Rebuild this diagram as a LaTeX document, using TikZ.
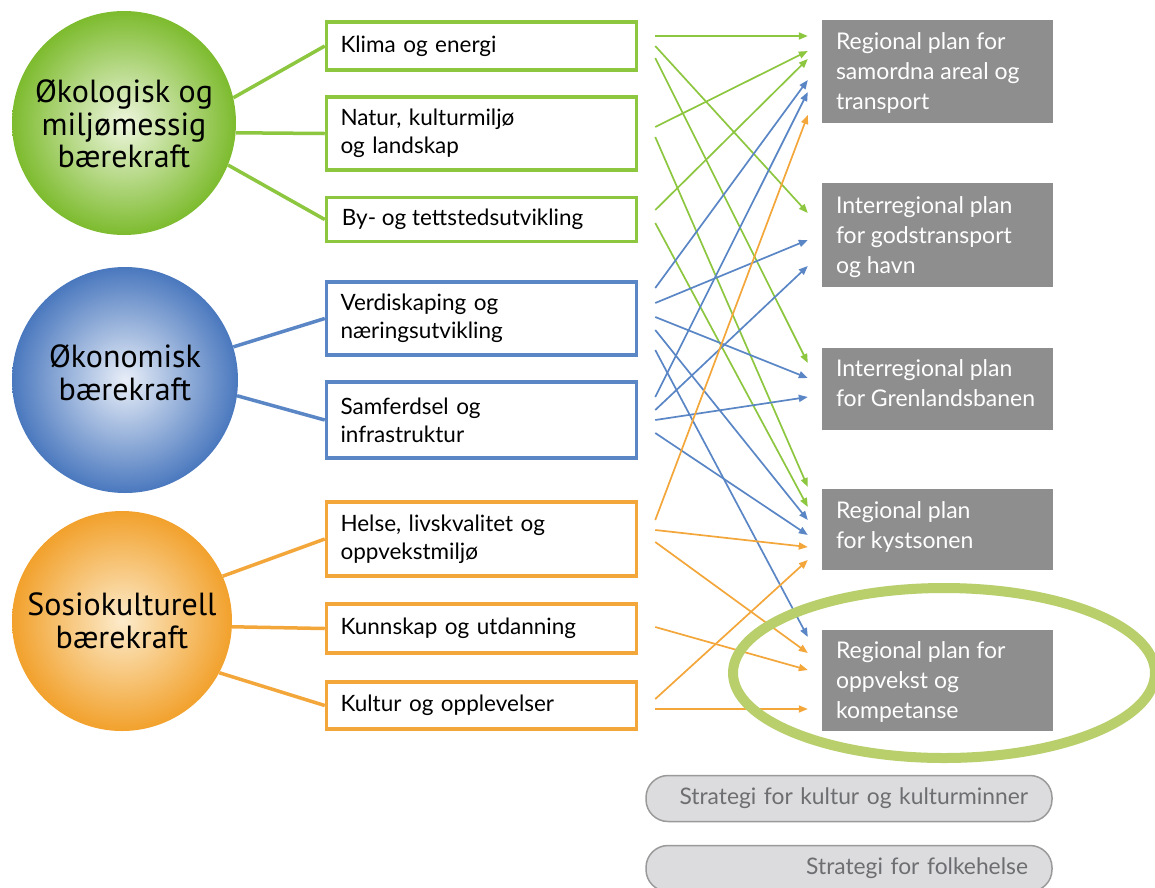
\documentclass[tikz,border=0pt]{standalone}
\usepackage{fontspec}
\setmainfont{Lato}
\newfontfamily\circfont{PT Sans}
\usetikzlibrary{arrows.meta}
\definecolor{gr}{HTML}{8DC63F}
\definecolor{bl}{HTML}{5A86C6}
\definecolor{orn}{HTML}{F3A63A}
\definecolor{grIn}{HTML}{EEF6DE}
\definecolor{grOut}{HTML}{7DBB2E}
\definecolor{blIn}{HTML}{E8EEF8}
\definecolor{blOut}{HTML}{4A78BE}
\definecolor{orIn}{HTML}{FCEBCB}
\definecolor{orOut}{HTML}{F2A12C}
\definecolor{plangray}{HTML}{8E8E8E}
\definecolor{pillfill}{HTML}{DCDCDE}
\definecolor{pilldraw}{HTML}{9A9A9A}
\definecolor{pilltext}{HTML}{6D6E71}
\definecolor{ell}{HTML}{B8CF6B}
\tikzset{
  themebox/.style={draw=#1, line width=3.5pt, fill=white, minimum width=310pt,
    text width=282pt, inner xsep=14pt, align=left, font=\fontsize{22.5}{28}\selectfont},
  themetext/.style={anchor=west, inner sep=0pt, font=\fontsize{22.5}{28}\selectfont},
  planbox/.style={fill=plangray, minimum width=231pt, inner sep=0pt},
  plantext/.style={anchor=base west, text=white, align=left, inner sep=0pt,
    font=\fontsize{23}{30}\selectfont},
  pillbox/.style={draw=pilldraw, line width=1.5pt, fill=pillfill, rounded corners=22pt,
    minimum width=406pt, minimum height=46pt, text width=358pt, inner xsep=24pt,
    align=right, text=pilltext, font=\fontsize{22.8}{26}\selectfont},
  sphere/.style args={#1/#2}{circle, inner sep=0pt, shade, inner color=#1, outer color=#2},
  circtext/.style={inner sep=0pt, align=center, font=\circfont\fontsize{32}{32.5}\selectfont},
  link/.style={draw=#1, line width=3.5pt},
  ar/.style={draw=#1, line width=1.7pt, -{Triangle[length=9pt,width=7pt]}},
}
\newcommand\conn[5]{\draw[ar=#1] ([xshift=17pt,yshift=#3]#2.east) -- ([xshift=-14pt,yshift=#5]#4.west);}
\begin{document}
\begin{tikzpicture}[x=1pt,y=-1pt]
\useasboundingbox (0,0) rectangle (1155,887);
\fill[white] (0,0) rectangle (1155,887);
% circles
\node[sphere=grIn/grOut, minimum size=224pt] (eco) at (124,123) {};
\node[sphere=blIn/blOut, minimum size=226pt] (oko) at (125,380) {};
\node[sphere=orIn/orOut, minimum size=220pt] (sos) at (122,621) {};
\node[circtext] (ecoT) at ([yshift=-1pt]eco.center) {Økologisk og\\miljømessig\\bærekraft};
\node[circtext] (okoT) at ([yshift=7pt]oko.center) {Økonomisk\\bærekraft};
\node[circtext] (sosT) at ([yshift=0pt]sos.center) {Sosiokulturell\\bærekraft};
% theme boxes
\node[themebox=gr, minimum height=48pt] (klima) at (481.5,46) {Klima og energi};
\node[themebox=gr, minimum height=73pt] (natur) at (481.5,133.5) {Natur, kulturmiljø\\og landskap};
\node[themebox=gr, minimum height=44pt] (by) at (481.5,219.5) {};
\node[themetext] (byT) at ([xshift=17pt]by.west) {By- og tettstedsutvikling};
\node[themebox=bl, minimum height=73pt] (verd) at (481.5,318.5) {Verdiskaping og\\næringsutvikling};
\node[themebox=bl, minimum height=76pt] (samf) at (481.5,420) {Samferdsel og\\infrastruktur};
\node[themebox=orn, minimum height=74pt] (helse) at (481.5,539) {Helse, livskvalitet og\\oppvekstmiljø};
\node[themebox=orn, minimum height=49pt] (kunn) at (481.5,628.5) {Kunnskap og utdanning};
\node[themebox=orn, minimum height=47pt] (kult) at (481.5,705.5) {Kultur og opplevelser};
% circle links
\draw[link=gr] (eco.13) -- (klima.west);
\draw[link=gr] (eco.-5) -- (natur.west);
\draw[link=gr] (eco.-22) -- (by.west);
\draw[link=bl] (oko.17) -- (verd.west);
\draw[link=bl] (oko.-8) -- (samf.west);
\draw[link=orn] (sos.24) -- (helse.west);
\draw[link=orn] (sos.-3) -- (kunn.west);
\draw[link=orn] (sos.-28) -- (kult.west);
% plan boxes
\node[planbox, minimum height=103pt] (samordna) at (937.5,71.5) {};
\node[planbox, minimum height=104pt] (gods) at (937.5,235) {};
\node[planbox, minimum height=82pt] (grenl) at (937.5,389) {};
\node[planbox, minimum height=81pt] (kyst) at (937.5,529.5) {};
\node[planbox, minimum height=101pt] (oppv) at (937.5,680.5) {};
\node[plantext] (samordnaT) at ([xshift=14pt,yshift=-90pt]samordna.north west) {Regional plan for\\samordna areal og\\transport};
\node[plantext] (godsT) at ([xshift=14pt,yshift=-91pt]gods.north west) {Interregional plan\\for godstransport\\og havn};
\node[plantext] (grenlT) at ([xshift=14pt,yshift=-59pt]grenl.north west) {Interregional plan\\for Grenlandsbanen};
\node[plantext] (kystT) at ([xshift=14pt,yshift=-60pt]kyst.north west) {Regional plan\\for kystsonen};
\node[plantext] (oppvT) at ([xshift=14pt,yshift=-89pt]oppv.north west) {Regional plan for\\oppvekst og\\kompetanse};
% arrows green
\conn{gr}{klima}{10pt}{samordna}{35.5pt}
\conn{gr}{klima}{0pt}{gods}{22pt}
\conn{gr}{klima}{-12pt}{grenl}{26pt}
\conn{gr}{natur}{6.5pt}{samordna}{20.5pt}
\conn{gr}{natur}{-3.5pt}{kyst}{42.5pt}
\conn{gr}{by}{9.5pt}{samordna}{12.5pt}
\conn{gr}{by}{-3.5pt}{kyst}{22.5pt}
% arrows blue
\conn{bl}{verd}{30.5pt}{samordna}{-8.5pt}
\conn{bl}{verd}{15.5pt}{gods}{-5pt}
\conn{bl}{verd}{1.5pt}{grenl}{11pt}
\conn{bl}{verd}{-11.5pt}{kyst}{9.5pt}
\conn{bl}{verd}{-31.5pt}{oppv}{43.5pt}
\conn{bl}{samf}{23pt}{samordna}{-20.5pt}
\conn{bl}{samf}{10pt}{gods}{-31pt}
\conn{bl}{samf}{0pt}{grenl}{-8pt}
\conn{bl}{samf}{-13pt}{kyst}{-5.5pt}
% arrows orange
\conn{orn}{helse}{19pt}{samordna}{-43.5pt}
\conn{orn}{helse}{9pt}{kyst}{-17.5pt}
\conn{orn}{helse}{-3pt}{oppv}{27.5pt}
\conn{orn}{kunn}{1.5pt}{oppv}{10.5pt}
\conn{orn}{kult}{6.5pt}{kyst}{-30.5pt}
\conn{orn}{kult}{-3.5pt}{oppv}{-28.5pt}
% highlight ellipse
\draw[ell, line width=10pt] (944,673) ellipse [x radius=211, y radius=85];
% strategy pills
\node[pillbox] (kstrat) at (849,798.5) {Strategi for kultur og kulturminner};
\node[pillbox] (fstrat) at (849,868.5) {Strategi for folkehelse};
\end{tikzpicture}
\end{document}
